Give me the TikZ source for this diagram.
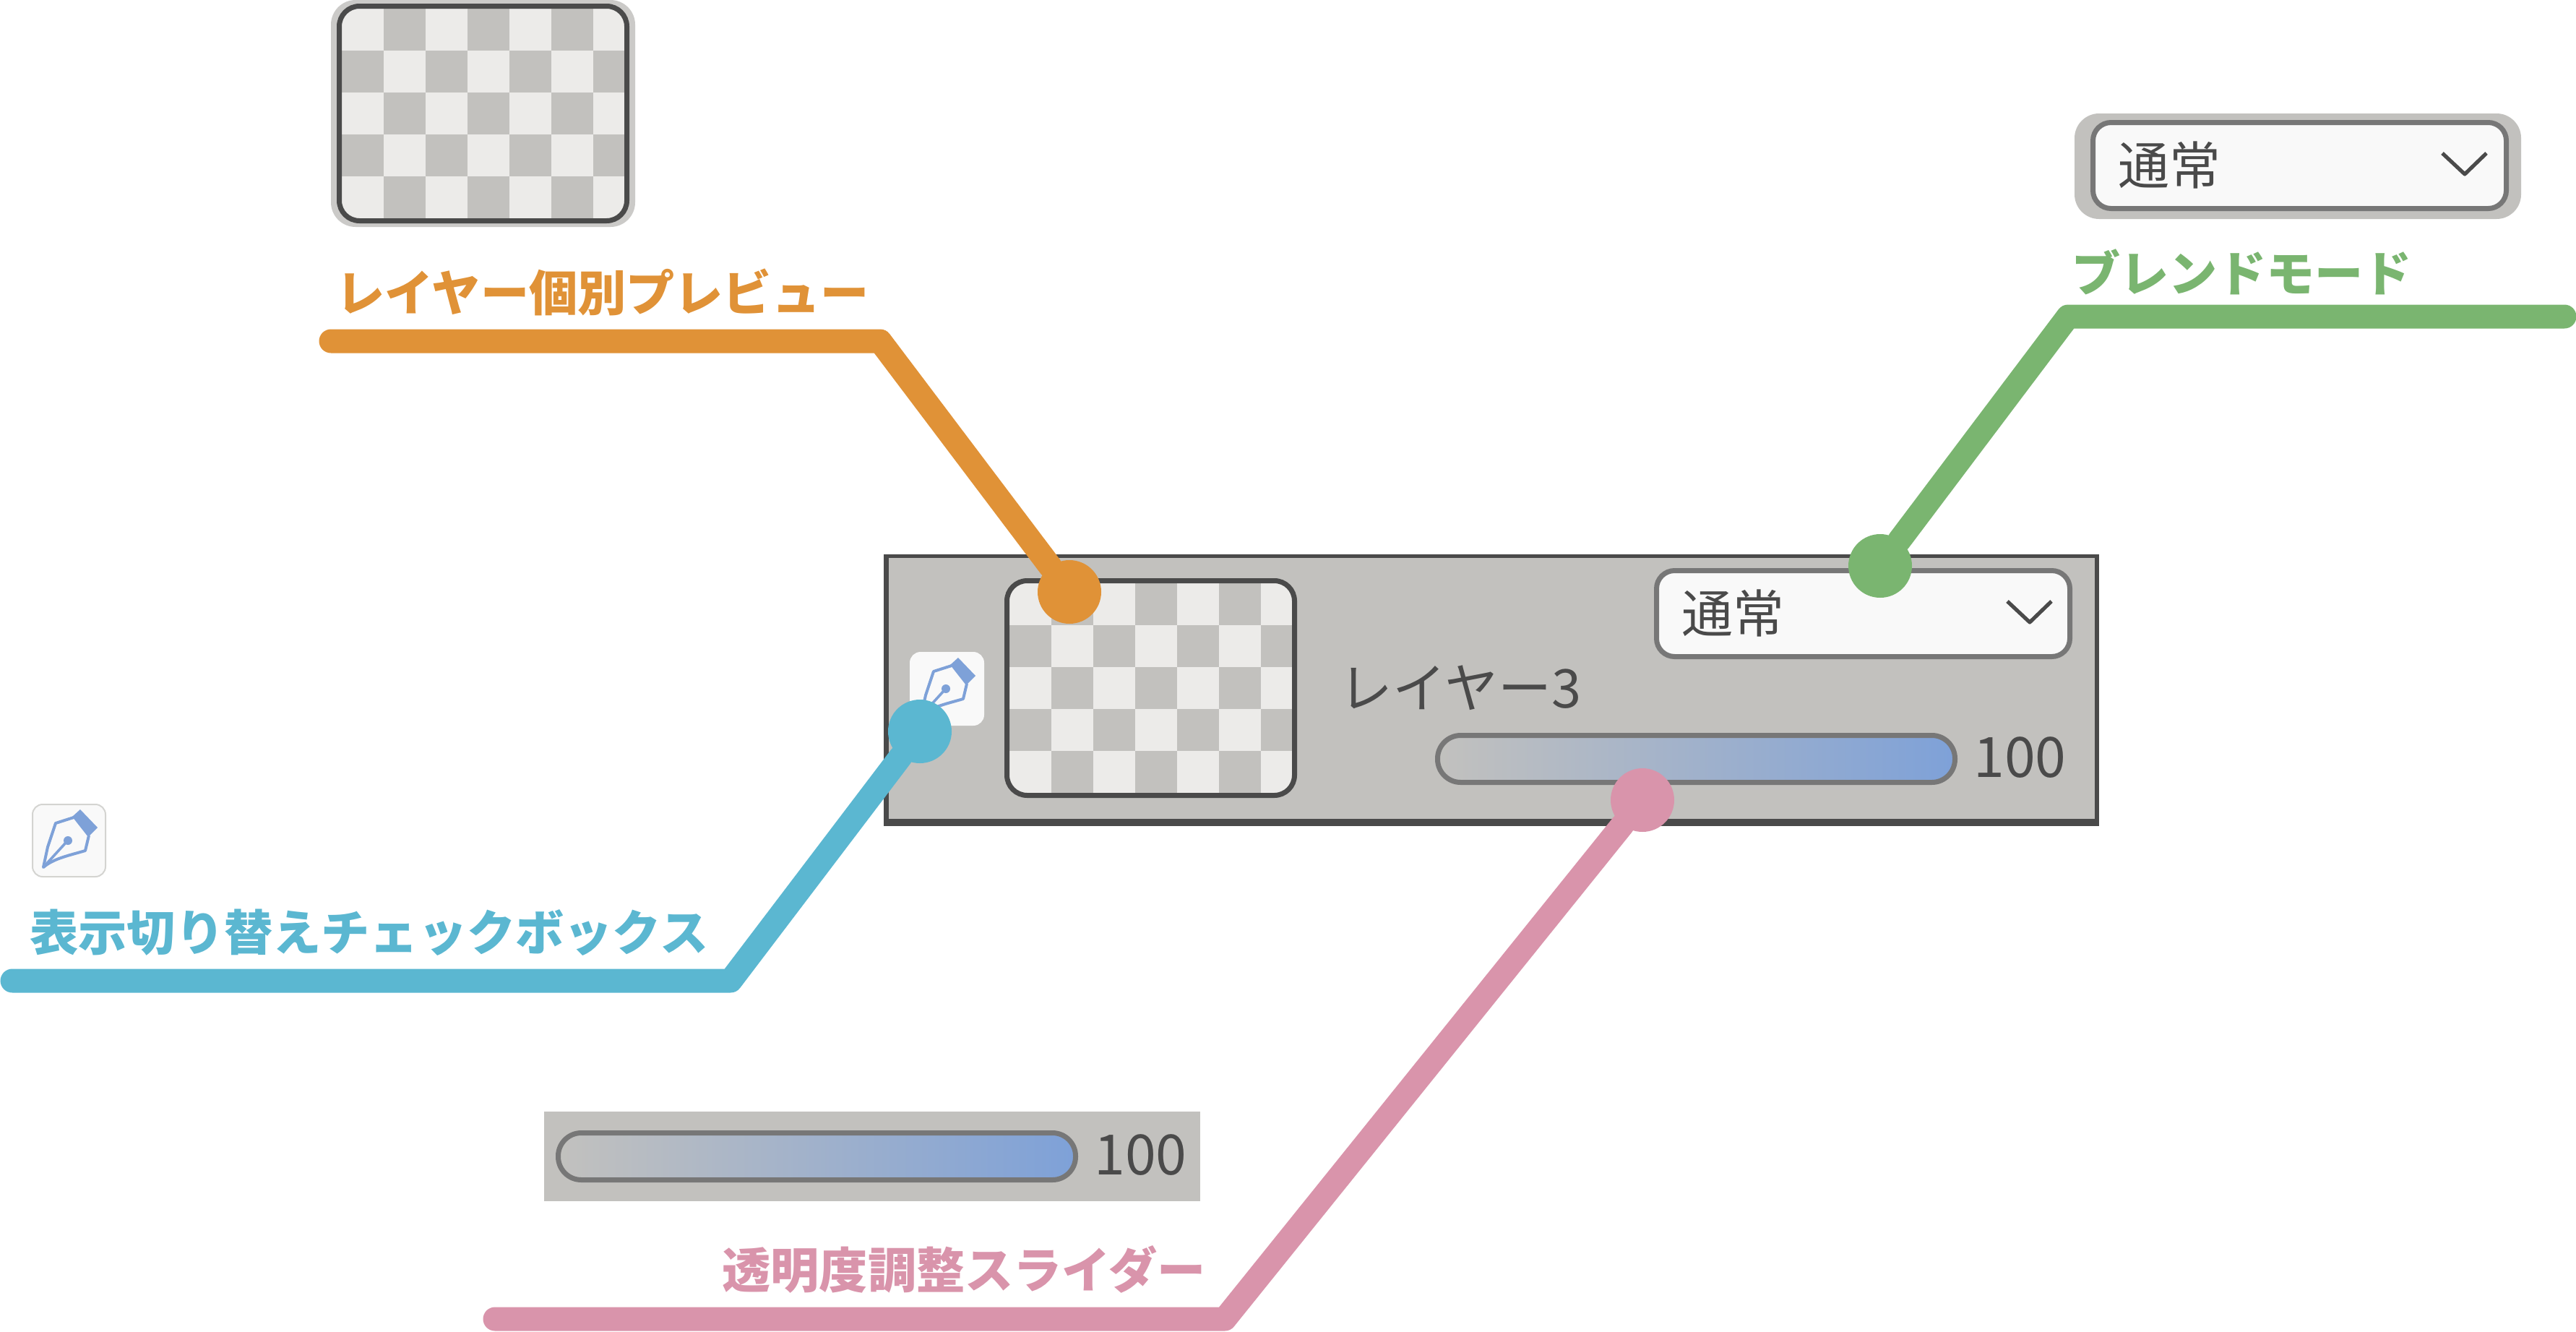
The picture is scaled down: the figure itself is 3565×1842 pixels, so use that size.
\documentclass[tikz,border=0pt]{standalone}
\usepackage{fontspec}
\newfontfamily\jpfont{Noto Sans CJK JP}
\definecolor{panelgray}{HTML}{C2C1BE}
\definecolor{celllight}{HTML}{ECEBE9}
\definecolor{inkdark}{HTML}{4A4A4A}
\definecolor{edgegray}{HTML}{777777}
\definecolor{boxwhite}{HTML}{F9F9F9}
\definecolor{penblue}{HTML}{7EA1D8}
\definecolor{previeworange}{HTML}{E09237}
\definecolor{togglecyan}{HTML}{5BB7D1}
\definecolor{blendgreen}{HTML}{7AB570}
\definecolor{opacitypink}{HTML}{D994AB}
\tikzset{
  uitext/.style={font=\jpfont\fontsize{35.5}{36}\selectfont, text=inkdark, inner sep=0pt, anchor=base west},
  rowname/.style={font=\jpfont\fontsize{37}{37}\selectfont, text=inkdark, inner sep=0pt, anchor=base west},
  digits/.style={font=\jpfont\fontsize{38.5}{38}\selectfont, text=inkdark, inner sep=0pt, anchor=base west},
  caption/.style={font=\jpfont\bfseries\fontsize{33.6}{34}\selectfont, inner sep=0pt, anchor=base west},
  leader/.style={line width=16.5pt, line cap=round, line join=round},
  dot/.style={circle, minimum size=44pt, inner sep=0pt, outer sep=0pt},
  selectbox/.style={draw=edgegray, line width=3.5pt, fill=boxwhite, rounded corners=12.5pt, anchor=north west,
    outer sep=0pt, minimum width=286pt, minimum height=59.5pt},
  sliderbar/.style={draw=edgegray, line width=3.5pt, left color=panelgray, right color=penblue, rounded corners=16pt,
    anchor=north west, outer sep=0pt, minimum width=358pt, minimum height=32.5pt},
  chevron/.style={draw=inkdark, line width=2.6pt, line join=round}
}
% thumbnail with its cells, from the corner of its inside
\newcommand{\thumbcells}[2]{
  \begin{scope}[shift={(#1,#2)}]
    \begin{scope}
      \clip[rounded corners=11.5pt] (0,0) rectangle (391,290);
      \fill[celllight] (0,0) rectangle (391,290);
      \foreach \r in {0,...,4}
        \foreach \c in {0,...,6} {
          \pgfmathparse{int(mod(\r+\c,2))}
          \ifnum\pgfmathresult=1
            \fill[panelgray] (\c*58,\r*58) rectangle ++(58,58);
          \fi
        }
    \end{scope}
    \draw[inkdark, line width=3.5pt, rounded corners=14pt] (-3.5,-3.5) rectangle (394.5,293.5);
  \end{scope}
}
% pen icon, from the corner of its box
\newcommand{\penicon}[3]{
  \begin{scope}[shift={(#1,#2)}]
    \fill[boxwhite, draw=#3, line width=1pt, rounded corners=7pt] (1,1) rectangle (102,101);
    \fill[penblue] (67,8) -- (91,33) -- (78,46) -- (56,18) -- cycle;
    \draw[penblue, line width=2pt, line join=round] (58,19) -- (33,27) -- (22,60) -- (16,88)
      .. controls (30,76) and (50,72) .. (74,65) -- (79,44);
    \draw[penblue, line width=1.8pt] (16,88) -- (47,54);
    \fill[penblue] (50,51) circle (6);
  \end{scope}
}
\begin{document}
\begin{tikzpicture}[x=0.5pt, y=-0.5pt]
    \useasboundingbox (0,0) rectangle (3565,1842);

    % Layer row
    \fill[inkdark] (1223,767) rectangle (2905,1143);
    \fill[panelgray] (1230,772) rectangle (2899,1133);
    \penicon{1259}{902}{boxwhite}
    \thumbcells{1397}{807}
    \node[rowname] (layername) at (1853,979) {レイヤー3};
    \node[selectbox] (rowselect) at (2292.5,789.5) {};
    \node[uitext] (rowmode) at (2327,875) {通常};
    \draw[chevron] (2778,832) -- (2809,861) -- (2839,832);
    \node[sliderbar] (rowslider) at (1989.5,1017.5) {};
    \node[digits] (rowvalue) at (2731,1075) {100};

    % Preview part
    \fill[panelgray!85!white, rounded corners=17pt] (458,0) rectangle (879,314);
    \thumbcells{473}{12}

    % Blend part
    \fill[panelgray, rounded corners=17pt] (2871,157) rectangle (3489,303);
    \node[selectbox] (partselect) at (2896.5,169.5) {};
    \node[uitext] (partmode) at (2931,255) {通常};
    \draw[chevron] (3380,212) -- (3411,241) -- (3441,212);

    % Toggle part
    \penicon{44}{1112}{panelgray!70!white}

    % Slider part
    \fill[panelgray] (753,1538) rectangle (1661,1662);
    \node[sliderbar] (partslider) at (772.5,1567.5) {};
    \node[digits] (partvalue) at (1514,1625) {100};

    % Captions
    \node[caption, text=previeworange] (previewcap) at (465,430) {レイヤー個別プレビュー};
    \node[caption, text=blendgreen] (blendcap) at (2867,403) {ブレンドモード};
    \node[caption, text=togglecyan] (togglecap) at (41,1315) {表示切り替えチェックボックス};
    \node[caption, text=opacitypink] (opacitycap) at (999,1782) {透明度調整スライダー};

    % Dots
    \node[dot, fill=previeworange] (previewdot) at (1480,819) {};
    \node[dot, fill=blendgreen] (blenddot) at (2602,783) {};
    \node[dot, fill=togglecyan] (toggledot) at (1273,1012) {};
    \node[dot, fill=opacitypink] (opacitydot) at (2273,1107) {};

    % Line ends and bends
    \coordinate (previewend) at (458,472);
    \coordinate (previewbend) at (1218,472);
    \coordinate (blendend) at (3549,438);
    \coordinate (blendbend) at (2862,438);
    \coordinate (toggleend) at (17,1357);
    \coordinate (togglebend) at (1011,1357);
    \coordinate (opacityend) at (685,1825);
    \coordinate (opacitybend) at (1695,1825);

    % Draw lines
    \draw[leader, previeworange] (previewend) -- (previewbend) -- (previewdot);
    \draw[leader, blendgreen] (blendend) -- (blendbend) -- (blenddot);
    \draw[leader, togglecyan] (toggleend) -- (togglebend) -- (toggledot);
    \draw[leader, opacitypink] (opacityend) -- (opacitybend) -- (opacitydot);
\end{tikzpicture}
\end{document}
